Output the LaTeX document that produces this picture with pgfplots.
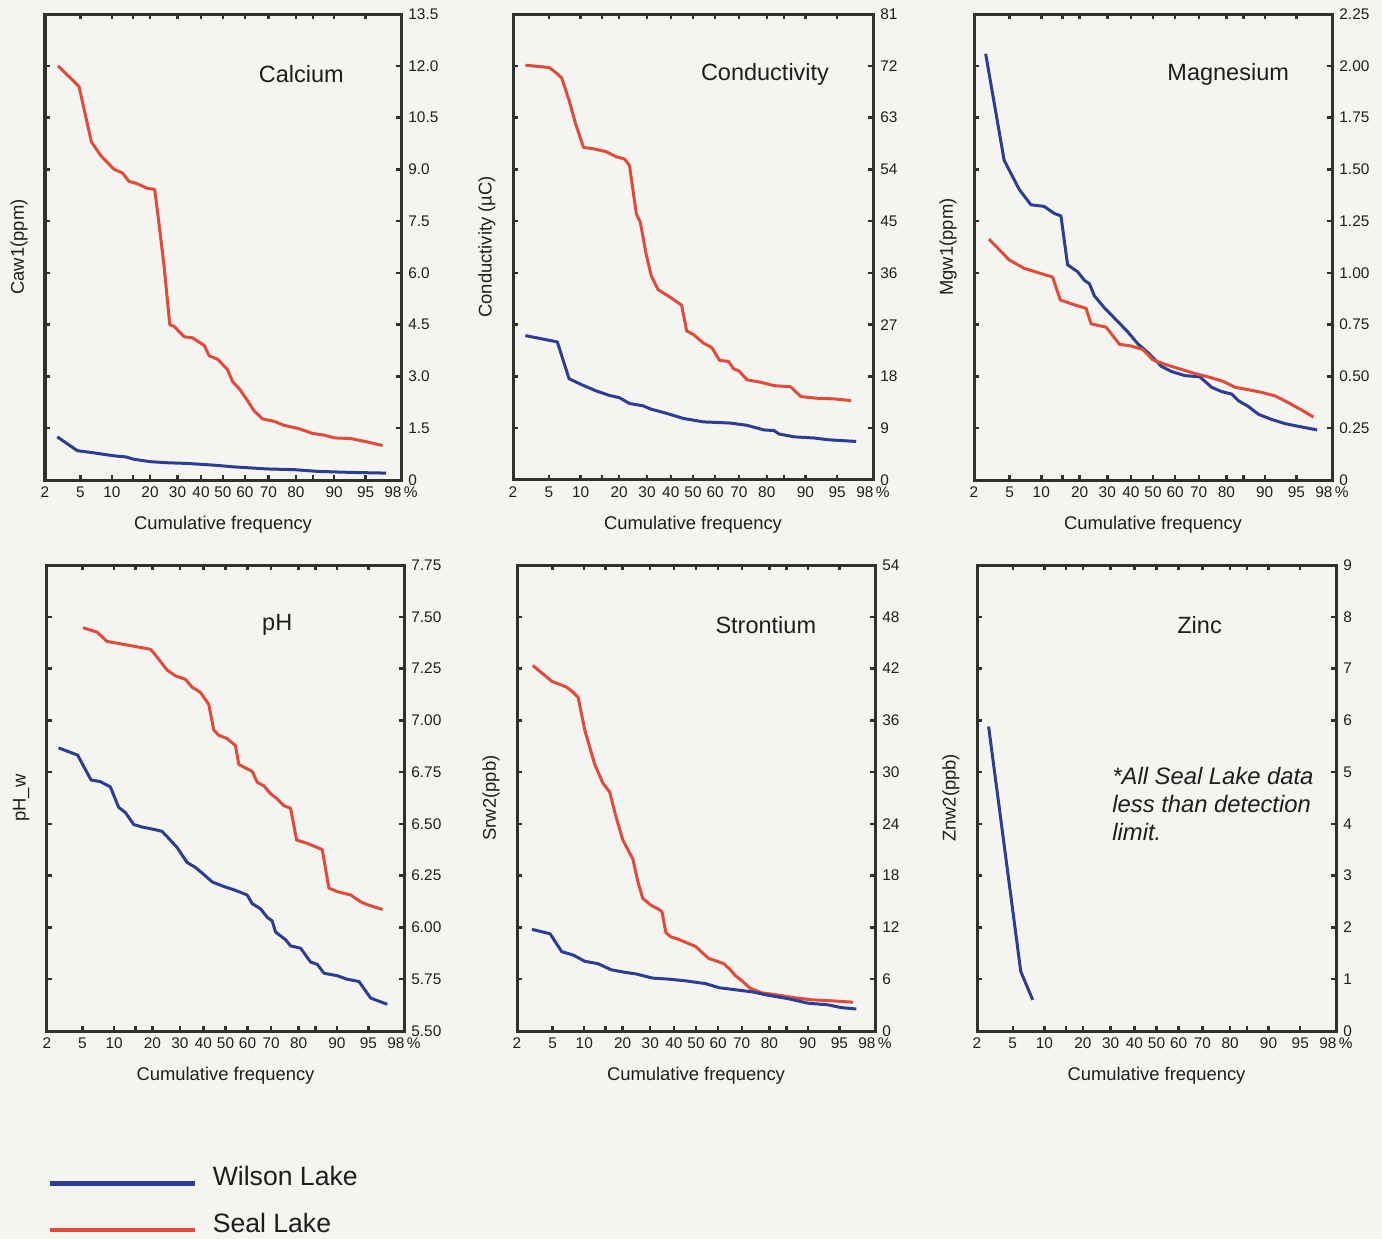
\documentclass[border=0pt]{standalone}
\usepackage{fontspec}
\setmainfont{Liberation Sans}
\usepackage{pgfplots}
\pgfplotsset{compat=1.18}

\definecolor{wilson}{RGB}{44,62,148}
\definecolor{seal}{RGB}{226,74,58}
\definecolor{frame}{RGB}{45,50,47}
\definecolor{paper}{RGB}{244,244,240}
\definecolor{ink}{RGB}{30,30,30}

% normal-probability x axis: positions are probits (z), labels are percentages
\pgfplotsset{
  probplot/.style={
    scale only axis,
    anchor=north west,
    width=179pt, height=233pt,
    xmin=-2.0537, xmax=2.0537,
    ymin=0,
    /pgf/number format/assume math mode=true,
    axis line style={frame, line width=1.5pt},
    tick align=inside,
    major tick length=2.6pt,
    minor tick length=2.6pt,
    every tick/.style={frame, line width=1.2pt},
    xtick={-2.0537,-1.6449,-1.2816,-0.8416,-0.5244,-0.2533,0,0.2533,0.5244,0.8416,1.2816,1.6449,2.0537},
    xticklabels={2,5,10,20,30,40,50,60,70,80,90,95,98\,\%},
    major x tick style={draw=none},
    minor xtick={-1.6449,-1.2816,-1.0364,-0.8416,-0.5244,-0.2533,0,0.2533,0.5244,0.8416,1.0364,1.2816,1.6449},
    xtick pos=both,
    ytick pos=both,
    yticklabel pos=right,
    ticklabel style={font=\fontsize{7.7}{9}\selectfont, text=ink},
    xticklabel style={anchor=center, yshift=-6.2pt},
    yticklabel style={anchor=west, inner sep=0pt, xshift=3.5pt},
    xlabel={Cumulative frequency},
    xlabel style={at={(axis description cs:0.5,-0.0966)}, anchor=center, font=\fontsize{9.2}{11}\selectfont, text=ink},
    ylabel style={at={(axis description cs:-0.0726,0.5)}, anchor=center, font=\fontsize{9.2}{11}\selectfont, text=ink},
  },
  wl/.style={wilson, line width=1.5pt, line join=round},
  sl/.style={seal, line width=1.5pt, line join=round},
}
\newcommand{\paneltitle}[3]{\node[font=\fontsize{11.75}{14}\selectfont, text=ink] at (axis description cs:#1,#2) {#3};}

\begin{document}
\begin{tikzpicture}
\fill[paper] (0,0) rectangle (691pt,-619.5pt);
\useasboundingbox (0,0) rectangle (691pt,-619.5pt);

% ---------------- Calcium ----------------
\begin{axis}[probplot, at={(22.5pt,-7pt)}, width=178pt, ymax=13.5,
  ytick={0,1.5,3,4.5,6,7.5,9,10.5,12,13.5},
  yticklabels={0,1.5,3.0,4.5,6.0,7.5,9.0,10.5,12.0,13.5},
  ylabel={Caw1(ppm)}]
\addplot[sl] coordinates {(-1.904,12.00) (-1.661,11.40) (-1.519,9.80) (-1.411,9.40) (-1.257,9.00) (-1.161,8.90) (-1.084,8.65) (-1.007,8.60) (-0.872,8.45) (-0.788,8.42) (-0.737,7.40) (-0.680,6.20) (-0.614,4.50) (-0.564,4.45) (-0.448,4.15) (-0.353,4.12) (-0.217,3.90) (-0.160,3.60) (-0.064,3.50) (0.052,3.20) (0.111,2.85) (0.186,2.65) (0.283,2.30) (0.360,2.00) (0.456,1.77) (0.591,1.70) (0.707,1.58) (0.859,1.50) (1.034,1.35) (1.167,1.30) (1.284,1.22) (1.476,1.20) (1.631,1.12) (1.841,1.00)};
\addplot[wl] coordinates {(-1.912,1.25) (-1.681,0.85) (-1.527,0.80) (-1.257,0.70) (-1.122,0.67) (-1.027,0.60) (-0.833,0.53) (-0.641,0.50) (-0.410,0.48) (-0.102,0.43) (0.127,0.38) (0.514,0.32) (0.822,0.30) (1.092,0.25) (1.476,0.22) (1.881,0.20)};
\paneltitle{0.72}{0.87}{Calcium}
\end{axis}

% ---------------- Conductivity ----------------
\begin{axis}[probplot, at={(256.5pt,-7pt)}, width=180pt, ymax=81,
  ytick={0,9,18,27,36,45,54,63,72,81},
  yticklabels={0,9,18,27,36,45,54,63,72,81},
  ylabel={Conductivity (µC)}]
\addplot[sl] coordinates {(-1.912,72.1) (-1.644,71.7) (-1.587,71.1) (-1.498,69.9) (-1.414,66.0) (-1.339,61.9) (-1.249,57.8) (-1.146,57.6) (-0.995,57.1) (-0.879,56.2) (-0.782,55.8) (-0.725,54.7) (-0.647,46.3) (-0.601,44.8) (-0.533,39.1) (-0.476,35.5) (-0.399,33.1) (-0.264,31.8) (-0.130,30.4) (-0.072,25.9) (0.004,25.3) (0.119,23.8) (0.215,23.0) (0.303,20.8) (0.407,20.6) (0.464,19.3) (0.522,19.0) (0.617,17.4) (0.770,17.0) (0.924,16.4) (1.114,16.2) (1.230,14.5) (1.422,14.2) (1.614,14.1) (1.804,13.8)};
\addplot[wl] coordinates {(-1.912,25.1) (-1.548,24.0) (-1.414,17.6) (-1.261,16.5) (-1.107,15.5) (-0.954,14.7) (-0.838,14.3) (-0.725,13.3) (-0.571,12.9) (-0.476,12.3) (-0.304,11.6) (-0.111,10.7) (0.119,10.1) (0.425,9.9) (0.617,9.5) (0.809,8.7) (0.924,8.6) (0.981,8.0) (1.154,7.5) (1.384,7.3) (1.537,7.0) (1.862,6.7)};
\paneltitle{0.70}{0.87}{Conductivity}
\end{axis}

% ---------------- Magnesium ----------------
\begin{axis}[probplot, at={(487pt,-7pt)}, width=179pt, ymax=2.25,
  ytick={0,0.25,0.5,0.75,1,1.25,1.5,1.75,2,2.25},
  yticklabels={0,0.25,0.50,0.75,1.00,1.25,1.50,1.75,2.00,2.25},
  ylabel={Mgw1(ppm)}]
\addplot[wl] coordinates {(-1.920,2.058) (-1.708,1.544) (-1.535,1.403) (-1.401,1.329) (-1.248,1.321) (-1.133,1.287) (-1.056,1.275) (-0.980,1.039) (-0.863,1.005) (-0.787,0.964) (-0.730,0.948) (-0.672,0.889) (-0.557,0.831) (-0.403,0.765) (-0.289,0.715) (-0.173,0.657) (-0.057,0.615) (0.096,0.549) (0.211,0.524) (0.365,0.504) (0.538,0.498) (0.672,0.448) (0.787,0.427) (0.903,0.415) (0.979,0.383) (1.094,0.355) (1.211,0.317) (1.364,0.292) (1.517,0.272) (1.670,0.259) (1.882,0.242)};
\addplot[sl] coordinates {(-1.881,1.163) (-1.651,1.063) (-1.478,1.022) (-1.286,0.997) (-1.152,0.980) (-1.063,0.869) (-0.902,0.846) (-0.768,0.829) (-0.711,0.754) (-0.538,0.738) (-0.384,0.655) (-0.250,0.647) (-0.116,0.630) (-0.001,0.580) (0.134,0.559) (0.288,0.539) (0.480,0.514) (0.633,0.498) (0.806,0.476) (0.941,0.448) (1.094,0.436) (1.248,0.423) (1.401,0.406) (1.555,0.373) (1.708,0.337) (1.842,0.304)};
\paneltitle{0.71}{0.87}{Magnesium}
\end{axis}

% ---------------- pH ----------------
\begin{axis}[probplot, at={(23.5pt,-282.5pt)}, width=178.5pt, ymin=5.5, ymax=7.75,
  ytick={5.5,5.75,6,6.25,6.5,6.75,7,7.25,7.5,7.75},
  yticklabels={5.50,5.75,6.00,6.25,6.50,6.75,7.00,7.25,7.50,7.75},
  ylabel={pH\_w},
  legend image code/.code={\path (0pt,0pt); \draw[#1, line width=2.2pt] (0pt,-3pt) -- (72.5pt,-3pt);},
  legend style={at={(axis description cs:0.0,-0.29)}, anchor=north west,
    draw=none, fill=none, inner sep=0pt, row sep=12pt, column sep=8pt,
    font=\fontsize{13.3}{16}\selectfont, text=ink, nodes={inner sep=0pt},
    cells={anchor=west}}]
\addplot[wl] coordinates {(-1.920,6.867) (-1.701,6.832) (-1.547,6.712) (-1.440,6.704) (-1.325,6.679) (-1.229,6.580) (-1.152,6.555) (-1.056,6.497) (-0.960,6.485) (-0.807,6.472) (-0.730,6.464) (-0.653,6.430) (-0.557,6.386) (-0.442,6.314) (-0.346,6.290) (-0.250,6.256) (-0.154,6.220) (-0.020,6.198) (0.096,6.182) (0.249,6.157) (0.307,6.115) (0.403,6.090) (0.480,6.049) (0.537,6.032) (0.576,5.978) (0.691,5.941) (0.749,5.911) (0.864,5.900) (0.979,5.833) (1.056,5.822) (1.133,5.779) (1.286,5.767) (1.401,5.750) (1.536,5.739) (1.670,5.659) (1.862,5.629)};
\addlegendentry{Wilson Lake}
\addplot[sl] coordinates {(-1.639,7.447) (-1.478,7.426) (-1.363,7.381) (-1.133,7.364) (-0.864,7.343) (-0.826,7.326) (-0.672,7.243) (-0.576,7.215) (-0.461,7.198) (-0.384,7.160) (-0.288,7.135) (-0.192,7.077) (-0.134,6.953) (-0.077,6.928) (0.019,6.912) (0.115,6.878) (0.153,6.787) (0.211,6.774) (0.307,6.754) (0.365,6.701) (0.441,6.684) (0.518,6.646) (0.595,6.621) (0.672,6.588) (0.749,6.575) (0.818,6.422) (0.941,6.406) (1.113,6.376) (1.190,6.190) (1.286,6.173) (1.440,6.157) (1.555,6.124) (1.632,6.110) (1.805,6.087)};
\addlegendentry{Seal Lake}
\paneltitle{0.645}{0.871}{pH}
\end{axis}

% ---------------- Strontium ----------------
\begin{axis}[probplot, at={(258.5pt,-282.5pt)}, width=179pt, ymax=54,
  ytick={0,6,12,18,24,30,36,42,48,54},
  yticklabels={0,6,12,18,24,30,36,42,48,54},
  ylabel={Srw2(ppb)}]
\addplot[sl] coordinates {(-1.872,42.36) (-1.655,40.53) (-1.485,39.85) (-1.409,39.25) (-1.352,38.65) (-1.276,34.87) (-1.162,30.89) (-1.067,28.70) (-0.991,27.71) (-0.915,24.72) (-0.839,22.13) (-0.725,19.94) (-0.668,17.36) (-0.611,15.37) (-0.516,14.57) (-0.440,14.17) (-0.391,13.85) (-0.345,11.39) (-0.288,10.91) (-0.212,10.67) (-0.117,10.27) (-0.003,9.79) (0.072,9.08) (0.148,8.40) (0.243,8.08) (0.319,7.80) (0.395,7.09) (0.452,6.41) (0.528,5.81) (0.623,4.94) (0.756,4.42) (0.908,4.22) (1.098,3.90) (1.326,3.62) (1.554,3.50) (1.801,3.34)};
\addplot[wl] coordinates {(-1.883,11.78) (-1.674,11.27) (-1.541,9.20) (-1.409,8.80) (-1.276,8.08) (-1.124,7.80) (-0.972,7.09) (-0.821,6.81) (-0.687,6.61) (-0.497,6.13) (-0.308,6.01) (-0.117,5.81) (0.111,5.49) (0.263,5.02) (0.452,4.78) (0.642,4.54) (0.832,4.14) (1.060,3.74) (1.288,3.22) (1.516,3.03) (1.668,2.71) (1.839,2.55)};
\paneltitle{0.695}{0.871}{Strontium}
\end{axis}

% ---------------- Zinc ----------------
\begin{axis}[probplot, at={(488.5pt,-282.5pt)}, width=179.5pt, ymax=9,
  ytick={0,1,2,3,4,5,6,7,8,9},
  yticklabels={0,1,2,3,4,5,6,7,8,9},
  ylabel={Znw2(ppb)}]
\addplot[wl] coordinates {(-1.921,5.88) (-1.553,1.15) (-1.416,0.60)};
\paneltitle{0.62}{0.871}{Zinc}
\node[anchor=north west, align=left, inner sep=0pt, text=ink,
  font=\fontsize{11.9}{14}\selectfont\itshape]
  at (axis description cs:0.376,0.567) {*All Seal Lake data\\less than detection\\limit.};
\end{axis}
\end{tikzpicture}
\end{document}
